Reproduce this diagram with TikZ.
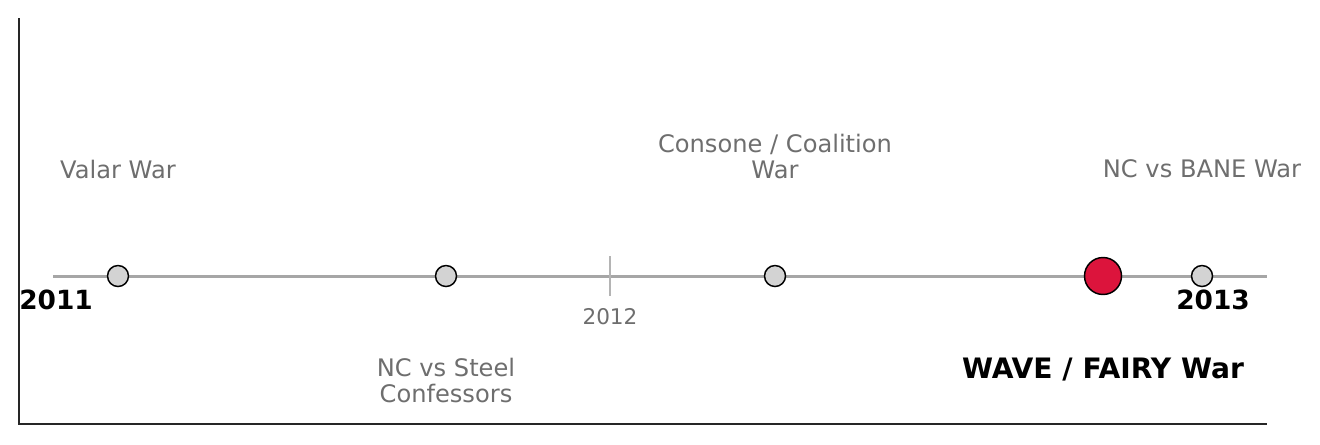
\documentclass[tikz,border=0pt]{standalone}
\usepackage{fontspec}
\setmainfont{DejaVu Sans}
\definecolor{spinegray}{HTML}{262626}
\definecolor{linegray}{HTML}{A6A6A6}
\definecolor{tickgray}{HTML}{B4B4B4}
\definecolor{labelgray}{HTML}{6E6E6E}
\definecolor{eventgray}{HTML}{D3D3D3}
\definecolor{crimson}{HTML}{DC143C}
\begin{document}
\begin{tikzpicture}[x=0.75pt,y=-0.75pt,
      event/.style={
        % The shape:
        circle,inner sep=0pt,minimum size=15.75pt,
        % The rest
        draw=black,line width=1.1pt,fill=eventgray},
      bigevent/.style={event,minimum size=27.75pt,fill=crimson},
      warlabel/.style={text=labelgray,align=center,
        font=\fontsize{18.1}{19.5}\selectfont},
      yearlabel/.style={text=black,font=\fontsize{19.8}{22}\selectfont\bfseries},
      spine/.style={draw=spinegray,line width=2pt}]
    \useasboundingbox (0,0) rectangle (1320,444);
    % axes
    \coordinate(top) at (19,18);
    \coordinate(origin) at (19,424);
    \coordinate(right) at (1267,424);
    \draw[spine] (top) -- (origin) -- (right);
    % timeline
    \coordinate(tl-start) at (53,276);
    \coordinate(tl-end) at (1267,276);
    \draw[linegray, line width=2.25pt] (tl-start) -- (tl-end);
    \coordinate(tick-top) at (610,256);
    \coordinate(tick-bot) at (610,296);
    \draw[tickgray, line width=1.5pt] (tick-top) -- (tick-bot);
    % events
    \node(valar)[event] at (118,276) {};
    \node(steel)[event] at (446,276) {};
    \node(consone)[event] at (775,276) {};
    \node(wave)[bigevent] at (1103,276) {};
    \node(bane)[event] at (1202,276) {};
    % labels
    \node(valar-lbl)[warlabel] at (118,169) {Valar War};
    \node(steel-lbl)[warlabel] at (446,380) {NC vs Steel\\Confessors};
    \node(consone-lbl)[warlabel] at (775,156) {Consone / Coalition\\War};
    \node(bane-lbl)[warlabel] at (1202,169) {NC vs BANE War};
    \node(wave-lbl)[text=black,font=\fontsize{21.1}{23}\selectfont\bfseries] at (1103,370) {WAVE / FAIRY War};
    % years
    \node(y2011)[yearlabel] at (56,300) {2011};
    \node(y2012)[text=labelgray,font=\fontsize{16.2}{18}\selectfont] at (610,317) {2012};
    \node(y2013)[yearlabel] at (1213,300) {2013};
  \end{tikzpicture}
\end{document}
